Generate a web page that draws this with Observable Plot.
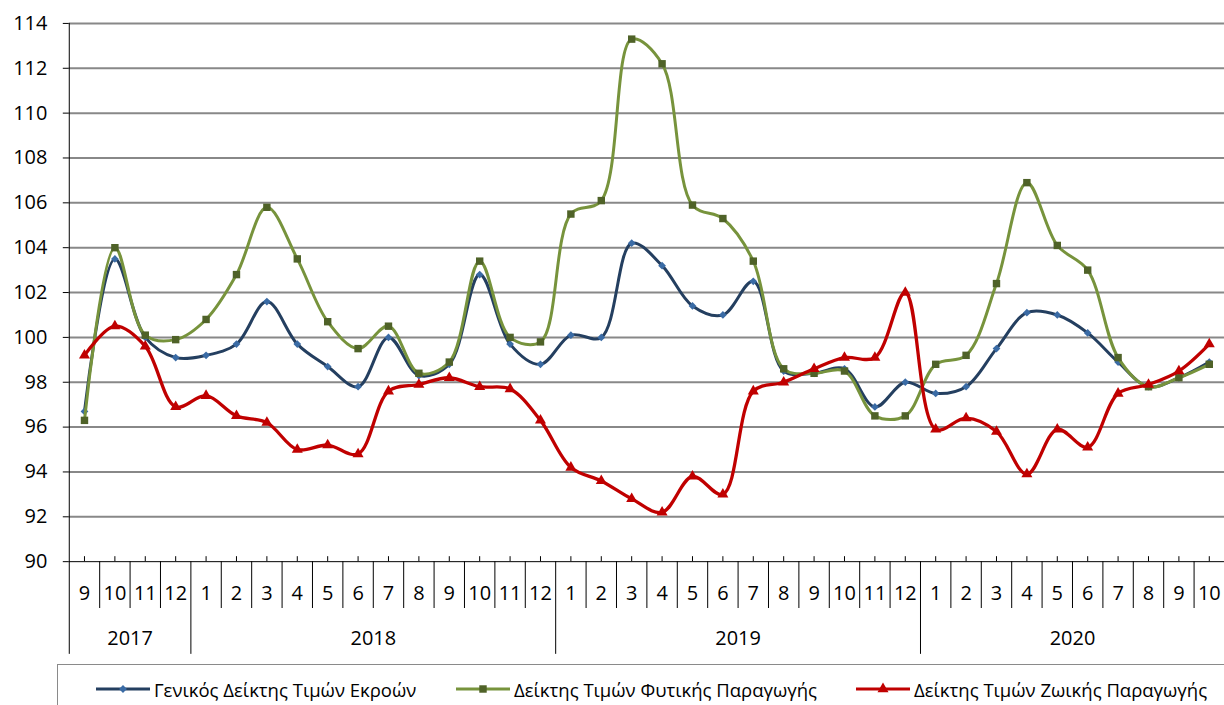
<!DOCTYPE html>
<html><head><meta charset="utf-8">
<script src="https://cdn.jsdelivr.net/npm/d3@7"></script>
<script src="https://cdn.jsdelivr.net/npm/@observablehq/plot@0.6"></script>
<style>
html,body{margin:0;padding:0;overflow:hidden;background:#fff;}
#wrap{position:relative;width:1224px;height:705px;overflow:hidden;font-family:"Open Sans",sans-serif;}
#legend{position:absolute;left:57px;top:664px;width:1200px;height:60px;border-top:1px solid #8a8a8a;border-left:1px solid #8a8a8a;}
.item{position:absolute;top:12px;height:24px;display:flex;align-items:center;font-size:18.5px;color:#000;white-space:nowrap;}
.item svg{margin-right:4px;}
</style></head><body><div id="wrap"><div id="chart"></div><div id="legend"></div></div>
<script>
const months = [9,10,11,12, 1,2,3,4,5,6,7,8,9,10,11,12, 1,2,3,4,5,6,7,8,9,10,11,12, 1,2,3,4,5,6,7,8,9,10];
const years  = [2017,2017,2017,2017,
  2018,2018,2018,2018,2018,2018,2018,2018,2018,2018,2018,2018,
  2019,2019,2019,2019,2019,2019,2019,2019,2019,2019,2019,2019,
  2020,2020,2020,2020,2020,2020,2020,2020,2020,2020];
const seriesNames = ["Γενικός Δείκτης Τιμών Εκροών","Δείκτης Τιμών Φυτικής Παραγωγής","Δείκτης Τιμών Ζωικής Παραγωγής"];
const general = [96.7,103.5,100.0,99.1,99.2,99.7,101.6,99.7,98.7,97.8,100.0,98.3,98.8,102.8,99.7,98.8,100.1,100.0,104.2,103.2,101.4,101.0,102.5,98.5,98.4,98.6,96.9,98.0,97.5,97.8,99.5,101.1,101.0,100.2,98.9,97.8,98.2,98.9];
const plant   = [96.3,104.0,100.1,99.9,100.8,102.8,105.8,103.5,100.7,99.5,100.5,98.4,98.9,103.4,100.0,99.8,105.5,106.1,113.3,112.2,105.9,105.3,103.4,98.6,98.4,98.5,96.5,96.5,98.8,99.2,102.4,106.9,104.1,103.0,99.1,97.8,98.2,98.8];
const animal  = [99.2,100.5,99.6,96.9,97.4,96.5,96.2,95.0,95.2,94.8,97.6,97.9,98.2,97.8,97.7,96.3,94.2,93.6,92.8,92.2,93.8,93.0,97.6,98.0,98.6,99.1,99.1,102.0,95.9,96.4,95.8,93.9,95.9,95.1,97.5,97.9,98.5,99.7];
const yTicks = [90,92,94,96,98,100,102,104,106,108,110,112,114];

const styles = [
  {values: general, line: "#243F60", fill: "#3A6BA5", symbol: "diamond2", r: 3.5, width: 3},
  {values: plant,   line: "#77933C", fill: "#4F6228", symbol: "square",   r: 4.2, width: 3},
  {values: animal,  line: "#C00000", fill: "#C00000", symbol: "triangle", r: 4.1, width: 3.3}
];

const n = months.length;
const rows = months.map((m, i) => ({i, m, year: years[i]}));
const yearRows = d3.rollups(rows, v => d3.mean(v, d => d.i), d => d.year).map(([year, i]) => ({year, i}));
const monthSeps = d3.range(1, n).filter(i => months[i] !== 1).map(i => i - 0.5);
const yearSeps = d3.range(1, n).filter(i => months[i] === 1).map(i => i - 0.5);

const H = 660, plotTop = 23, plotBottom = 563;
const font = "'Open Sans', sans-serif";

const seriesMarks = styles.flatMap((s) => {
  const data = s.values.map((v, i) => ({i, v}));
  return [
    Plot.line(data, {x: "i", y: "v", stroke: s.line, strokeWidth: s.width, curve: "catmull-rom"}),
    Plot.dot(data, {x: "i", y: "v", symbol: s.symbol, r: s.r, fill: s.fill, stroke: "none"})
  ];
});

const chart = Plot.plot({
  width: 1228, height: H,
  marginLeft: 69, marginRight: 0, marginTop: plotTop, marginBottom: H - plotBottom,
  style: {fontFamily: font, background: "#fff", overflow: "visible"},
  x: {domain: [-0.5, n - 0.5], axis: null},
  y: {domain: [90, 114], axis: null},
  marks: [
    Plot.ruleY(yTicks.filter(t => t !== 90), {y: d => d, stroke: "#888888", strokeWidth: 2}),
    Plot.axisY(yTicks, {anchor: "left", label: null, tickSize: 6, tickPadding: 16, fontSize: 20, fill: "#000", stroke: "#000", tickFormat: d => String(d)}),
    Plot.ruleY([90], {stroke: "#000", strokeWidth: 1}),
    Plot.ruleX([-0.5], {x: d => d, stroke: "#000", strokeWidth: 1, insetBottom: -93}),
    Plot.ruleX(rows, {x: "i", stroke: "#000", strokeWidth: 1, insetTop: plotBottom - plotTop - 5}),
    Plot.ruleX(monthSeps, {x: d => d, stroke: "#000", strokeWidth: 1, insetTop: plotBottom - plotTop, insetBottom: -47}),
    Plot.ruleX(yearSeps, {x: d => d, stroke: "#000", strokeWidth: 1, insetTop: plotBottom - plotTop, insetBottom: -93}),
    Plot.text(rows, {x: "i", text: d => String(d.m), frameAnchor: "bottom", dy: 32, fontSize: 20, fill: "#000", lineAnchor: "middle"}),
    Plot.text(yearRows, {x: "i", text: d => String(d.year), frameAnchor: "bottom", dy: 77, fontSize: 20, fill: "#000", lineAnchor: "middle"}),
    ...seriesMarks
  ]
});
document.getElementById("chart").appendChild(chart);

// legend
const legend = document.getElementById("legend");
const lefts = [95, 455, 855];
const sym = {diamond2: d3.symbolDiamond2 || d3.symbolDiamond, square: d3.symbolSquare, triangle: d3.symbolTriangle};
styles.forEach((s, k) => {
  const item = document.createElement("div");
  item.className = "item";
  item.style.left = (lefts[k] - 57) + "px";
  const path = d3.symbol(sym[s.symbol], Math.PI * s.r * s.r)();
  item.innerHTML = `<svg width="54" height="14"><line x1="0" x2="54" y1="7" y2="7" stroke="${s.line}" stroke-width="3"/><path transform="translate(27,7)" d="${path}" fill="${s.fill}"/></svg><span>${seriesNames[k]}</span>`;
  legend.appendChild(item);
});
</script>
</body></html>
